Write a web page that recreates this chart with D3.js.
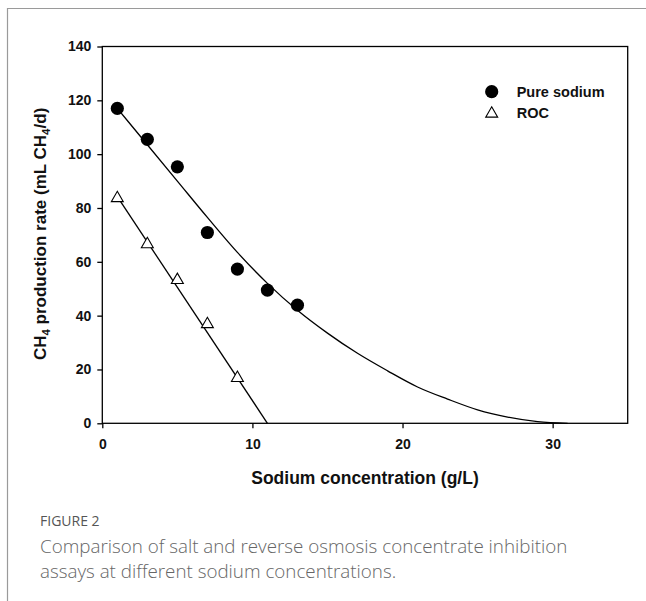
<!DOCTYPE html>
<html>
<head>
<meta charset="utf-8">
<script src="https://cdn.jsdelivr.net/npm/d3@7"></script>
<style>
  body { margin: 0; background: #fff; }
  svg { display: block; }
</style>
</head>
<body>
<svg class="chart"></svg>
<script>
// measured points
const pureX = [1, 3, 5, 7, 9, 11, 13];
const pureY = [117, 105.5, 95.3, 70.9, 57.3, 49.5, 43.9];
const rocX = [1, 3, 5, 7, 9];
const rocY = [84, 66.9, 53.6, 37.2, 17.2];

// fitted curves
const pureFitX = [1, 3, 5, 7, 9, 11, 13, 15, 17, 19, 21, 23, 25, 27, 29, 31];
const pureFitY = [117, 103.5, 90, 76.5, 63.5, 52, 42, 33.5, 26, 19.5, 13.5, 9, 5, 2.3, 0.6, 0];
const rocFitX = [1, 11];
const rocFitY = [84.2, 0];

const xTicks = [0, 10, 20, 30];
const yTicks = [0, 20, 40, 60, 80, 100, 120, 140];

const legendItems = ["Pure sodium", "ROC"];
const captionTitle = "FIGURE 2";
const captionLines = [
  "Comparison of salt and reverse osmosis concentrate inhibition",
  "assays at different sodium concentrations."
];

function createChart() {
  const width = 646;
  const height = 601;
  const left = 102.3, right = 627.7, top = 46.5, bottom = 423.3;
  const font = "'Liberation Sans', Arial, sans-serif";

  const svg = d3.select("svg.chart")
    .attr("width", width)
    .attr("height", height)
    .attr("viewBox", `0 0 ${width} ${height}`);

  // outer page frame (left and top edges visible)
  svg.append("path")
    .attr("d", `M7.5,${height} V8.5 H${width}`)
    .attr("fill", "none")
    .attr("stroke", "#9a9a9a")
    .attr("stroke-width", 1.2);

  const x = d3.scaleLinear().domain([0, 35]).range([left, right]);
  const y = d3.scaleLinear().domain([0, 140]).range([bottom, top]);

  // plot box
  svg.append("rect")
    .attr("x", left).attr("y", top)
    .attr("width", right - left).attr("height", bottom - top)
    .attr("fill", "none")
    .attr("stroke", "#000")
    .attr("stroke-width", 1.3);

  // axes
  svg.append("g")
    .attr("transform", `translate(0,${bottom})`)
    .call(d3.axisBottom(x).tickValues(xTicks).tickSize(5).tickPadding(11).tickFormat(d3.format("d")))
    .call(g => g.select(".domain").remove())
    .call(g => g.selectAll("line").attr("stroke-width", 1.3))
    .call(g => g.selectAll("text")
      .attr("font-family", font).attr("font-weight", "bold")
      .attr("font-size", 14).attr("fill", "#111"));

  svg.append("g")
    .attr("transform", `translate(${left},0)`)
    .call(d3.axisLeft(y).tickValues(yTicks).tickSize(5).tickPadding(6).tickFormat(d3.format("d")))
    .call(g => g.select(".domain").remove())
    .call(g => g.selectAll("line").attr("stroke-width", 1.3))
    .call(g => g.selectAll("text")
      .attr("font-family", font).attr("font-weight", "bold")
      .attr("font-size", 14).attr("fill", "#111"));

  // axis titles
  svg.append("text")
    .attr("x", 365).attr("y", 484)
    .attr("text-anchor", "middle")
    .attr("font-family", font).attr("font-weight", "bold")
    .attr("font-size", 17.5).attr("fill", "#111")
    .text("Sodium concentration (g/L)");

  const yTitle = svg.append("text")
    .attr("transform", `translate(46,${(top + bottom) / 2 - 1}) rotate(-90)`)
    .attr("text-anchor", "middle")
    .attr("font-family", font).attr("font-weight", "bold")
    .attr("font-size", 17).attr("fill", "#111");
  yTitle.append("tspan").text("CH");
  yTitle.append("tspan").attr("font-size", 11.5).attr("dy", 4).text("4");
  yTitle.append("tspan").attr("dy", -4).text(" production rate (mL CH");
  yTitle.append("tspan").attr("font-size", 11.5).attr("dy", 4).text("4");
  yTitle.append("tspan").attr("dy", -4).text("/d)");

  // fit lines
  const line = d3.line().x(d => x(d[0])).y(d => y(d[1]));
  svg.append("path")
    .datum(pureFitX.map((v, i) => [v, pureFitY[i]]))
    .attr("d", line.curve(d3.curveMonotoneX))
    .attr("fill", "none").attr("stroke", "#000").attr("stroke-width", 1.3);
  svg.append("path")
    .datum(rocFitX.map((v, i) => [v, rocFitY[i]]))
    .attr("d", d3.line().x(d => x(d[0])).y(d => y(d[1])))
    .attr("fill", "none").attr("stroke", "#000").attr("stroke-width", 1.3);

  const tri = d3.symbol().type(d3.symbolTriangle).size(62);

  // points
  svg.append("g")
    .selectAll("circle")
    .data(pureX.map((v, i) => [v, pureY[i]]))
    .join("circle")
    .attr("cx", d => x(d[0])).attr("cy", d => y(d[1]))
    .attr("r", 6.6).attr("fill", "#000");

  svg.append("g")
    .selectAll("path")
    .data(rocX.map((v, i) => [v, rocY[i]]))
    .join("path")
    .attr("transform", d => `translate(${x(d[0])},${y(d[1]) + 1})`)
    .attr("d", tri)
    .attr("fill", "#fff").attr("stroke", "#000").attr("stroke-width", 1.1);

  // legend
  const legend = svg.append("g").attr("transform", "translate(491.7,91.7)");
  legend.append("circle").attr("r", 6.6).attr("fill", "#000");
  legend.append("path")
    .attr("transform", "translate(0,22)")
    .attr("d", tri)
    .attr("fill", "#fff").attr("stroke", "#000").attr("stroke-width", 1.1);
  legend.selectAll("text")
    .data(legendItems)
    .join("text")
    .attr("x", 25).attr("y", (d, i) => i * 21)
    .attr("dy", "0.36em")
    .attr("font-family", font).attr("font-weight", "bold")
    .attr("font-size", 14.5).attr("fill", "#111")
    .text(d => d);

  // caption
  svg.append("text")
    .attr("x", 40).attr("y", 526)
    .attr("font-family", "'Open Sans', sans-serif")
    .attr("font-size", 14).attr("fill", "#555")
    .text(captionTitle);
  svg.append("g")
    .selectAll("text")
    .data(captionLines)
    .join("text")
    .attr("x", 40).attr("y", (d, i) => 553 + i * 25)
    .attr("font-family", "'Open Sans', sans-serif")
    .attr("font-weight", 300)
    .attr("font-size", 18.8).attr("fill", "#666")
    .text(d => d);
}

createChart();
</script>
</body>
</html>
